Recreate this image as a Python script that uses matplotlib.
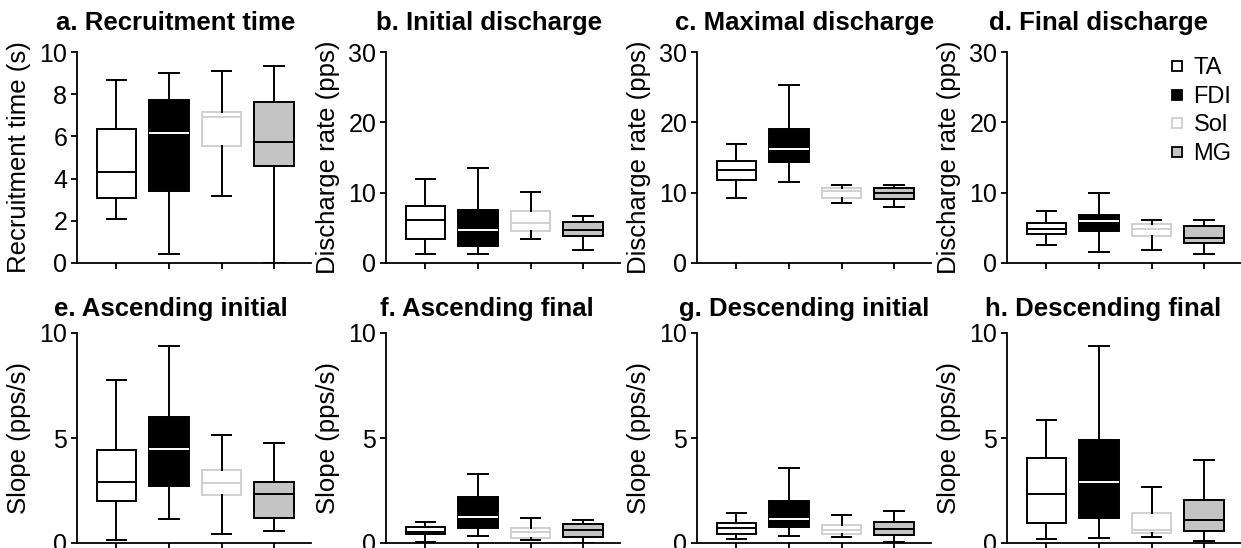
import numpy as np
import matplotlib
matplotlib.use("Agg")
import matplotlib.pyplot as plt
from matplotlib.lines import Line2D

plt.rcParams["font.family"] = ["Liberation Sans", "DejaVu Sans"]

muscles = ["TA", "FDI", "Sol", "MG"]

# rows: whisker low, Q1, median, Q3, whisker high ; columns: TA, FDI, Sol, MG
recruitment_time = [[2.10, 0.43, 3.19, 0.00],
                    [3.10, 3.43, 5.56, 4.58],
                    [4.30, 6.16, 6.90, 5.72],
                    [6.35, 7.74, 7.17, 7.61],
                    [8.69, 9.00, 9.08, 9.32]]
initial_discharge = [[1.33, 1.33, 3.41, 1.85],
                     [3.41, 2.37, 4.60, 3.89],
                     [6.11, 4.74, 5.69, 4.74],
                     [8.06, 7.49, 7.35, 5.78],
                     [11.94, 13.5, 10.14, 6.73]]
maximal_discharge = [[9.29, 11.47, 8.53, 7.96],
                     [11.75, 14.31, 9.29, 9.15],
                     [13.27, 16.26, 10.19, 9.95],
                     [14.45, 19.05, 10.66, 10.62],
                     [16.97, 25.36, 11.04, 11.14]]
final_discharge = [[2.51, 1.61, 1.80, 1.33],
                   [4.17, 4.50, 3.89, 2.84],
                   [4.88, 6.02, 4.83, 3.55],
                   [5.73, 6.82, 5.50, 5.21],
                   [7.35, 10.0, 6.07, 6.07]]
ascending_initial = [[0.13, 1.14, 0.44, 0.56],
                     [1.98, 2.73, 2.27, 1.19],
                     [2.90, 4.46, 2.87, 2.33],
                     [4.44, 5.98, 3.48, 2.92],
                     [7.76, 9.40, 5.14, 4.78]]
ascending_final = [[0.05, 0.35, 0.13, 0.00],
                   [0.43, 0.70, 0.24, 0.29],
                   [0.52, 1.22, 0.51, 0.63],
                   [0.75, 2.17, 0.70, 0.92],
                   [0.98, 3.30, 1.20, 1.11]]
descending_initial = [[0.19, 0.35, 0.30, 0.06],
                      [0.43, 0.78, 0.44, 0.38],
                      [0.71, 1.14, 0.62, 0.67],
                      [0.97, 2.00, 0.87, 0.98],
                      [1.41, 3.56, 1.35, 1.54]]
descending_final = [[0.19, 0.22, 0.30, 0.11],
                    [0.94, 1.17, 0.46, 0.59],
                    [2.35, 2.90, 0.63, 1.08],
                    [4.05, 4.90, 1.41, 2.03],
                    [5.87, 9.40, 2.68, 3.94]]

panels = [recruitment_time, initial_discharge, maximal_discharge, final_discharge,
          ascending_initial, ascending_final, descending_initial, descending_final]
titles = ["a. Recruitment time", "b. Initial discharge", "c. Maximal discharge",
          "d. Final discharge", "e. Ascending initial", "f. Ascending final",
          "g. Descending initial", "h. Descending final"]
ylabels = ["Recruitment time (s)"] + ["Discharge rate (pps)"] * 3 + ["Slope (pps/s)"] * 4
ymax = [10, 30, 30, 30, 10, 10, 10, 10]
yticks = [[0, 2, 4, 6, 8, 10]] + [[0, 10, 20, 30]] * 3 + [[0, 5, 10]] * 4

face = ["white", "black", "white", "#c4c4c4"]
edge = ["black", "black", "#d0d0d0", "black"]
medc = ["black", "white", "#d0d0d0", "black"]

fig = plt.figure(figsize=(12.41, 5.48), dpi=100)
lefts = [77, 386, 697, 1007]
title_x = [0.42, 0.44, 0.46, 0.39, 0.40, 0.43, 0.46, 0.41]
W, H = 1241, 548

for i, data in enumerate(panels):
    r, c = divmod(i, 4)
    top, bot = (52, 263) if r == 0 else (333, 543)
    ax = fig.add_axes([lefts[c] / W, 1 - bot / H, 234 / W, (bot - top) / H])
    d = np.array(data)
    for k in range(4):
        st = [dict(whislo=d[0, k], q1=d[1, k], med=d[2, k], q3=d[3, k],
                   whishi=d[4, k], fliers=[])]
        ax.bxp(st, positions=[k + 1], widths=0.75, showfliers=False,
               patch_artist=True,
               boxprops=dict(facecolor=face[k], edgecolor=edge[k], linewidth=1.4),
               medianprops=dict(color=medc[k], linewidth=1.4),
               whiskerprops=dict(color="black", linewidth=1.4),
               capprops=dict(color="black", linewidth=1.4))
    ax.set_xlim(0.25, 4.7)
    ax.set_ylim(0, ymax[i])
    ax.set_yticks(yticks[i])
    ax.set_xticks([1, 2, 3, 4])
    ax.set_xticklabels([])
    for s in ["top", "right"]:
        ax.spines[s].set_visible(False)
    for s in ["left", "bottom"]:
        ax.spines[s].set_linewidth(1.3)
    ax.tick_params(axis="both", width=1.3, length=4, labelsize=18, pad=3)
    ax.set_ylabel(ylabels[i], fontsize=18.5, labelpad=6)
    ax.set_title(titles[i], fontsize=18.5, fontweight="bold", x=title_x[i],
                 pad=16 if r == 0 else 12)
    if i == 3:
        handles = [Line2D([], [], marker="s", ls="none", markersize=6.5,
                          markerfacecolor=face[k], markeredgecolor=edge[k],
                          markeredgewidth=1.3) for k in range(4)]
        ax.legend(handles, muscles, loc="upper right", frameon=False,
                  fontsize=17, handletextpad=0.3, labelspacing=0.28,
                  handlelength=0.8, borderaxespad=0.0,
                  bbox_to_anchor=(1.0, 1.02))

fig.savefig("out.png", dpi=100)
